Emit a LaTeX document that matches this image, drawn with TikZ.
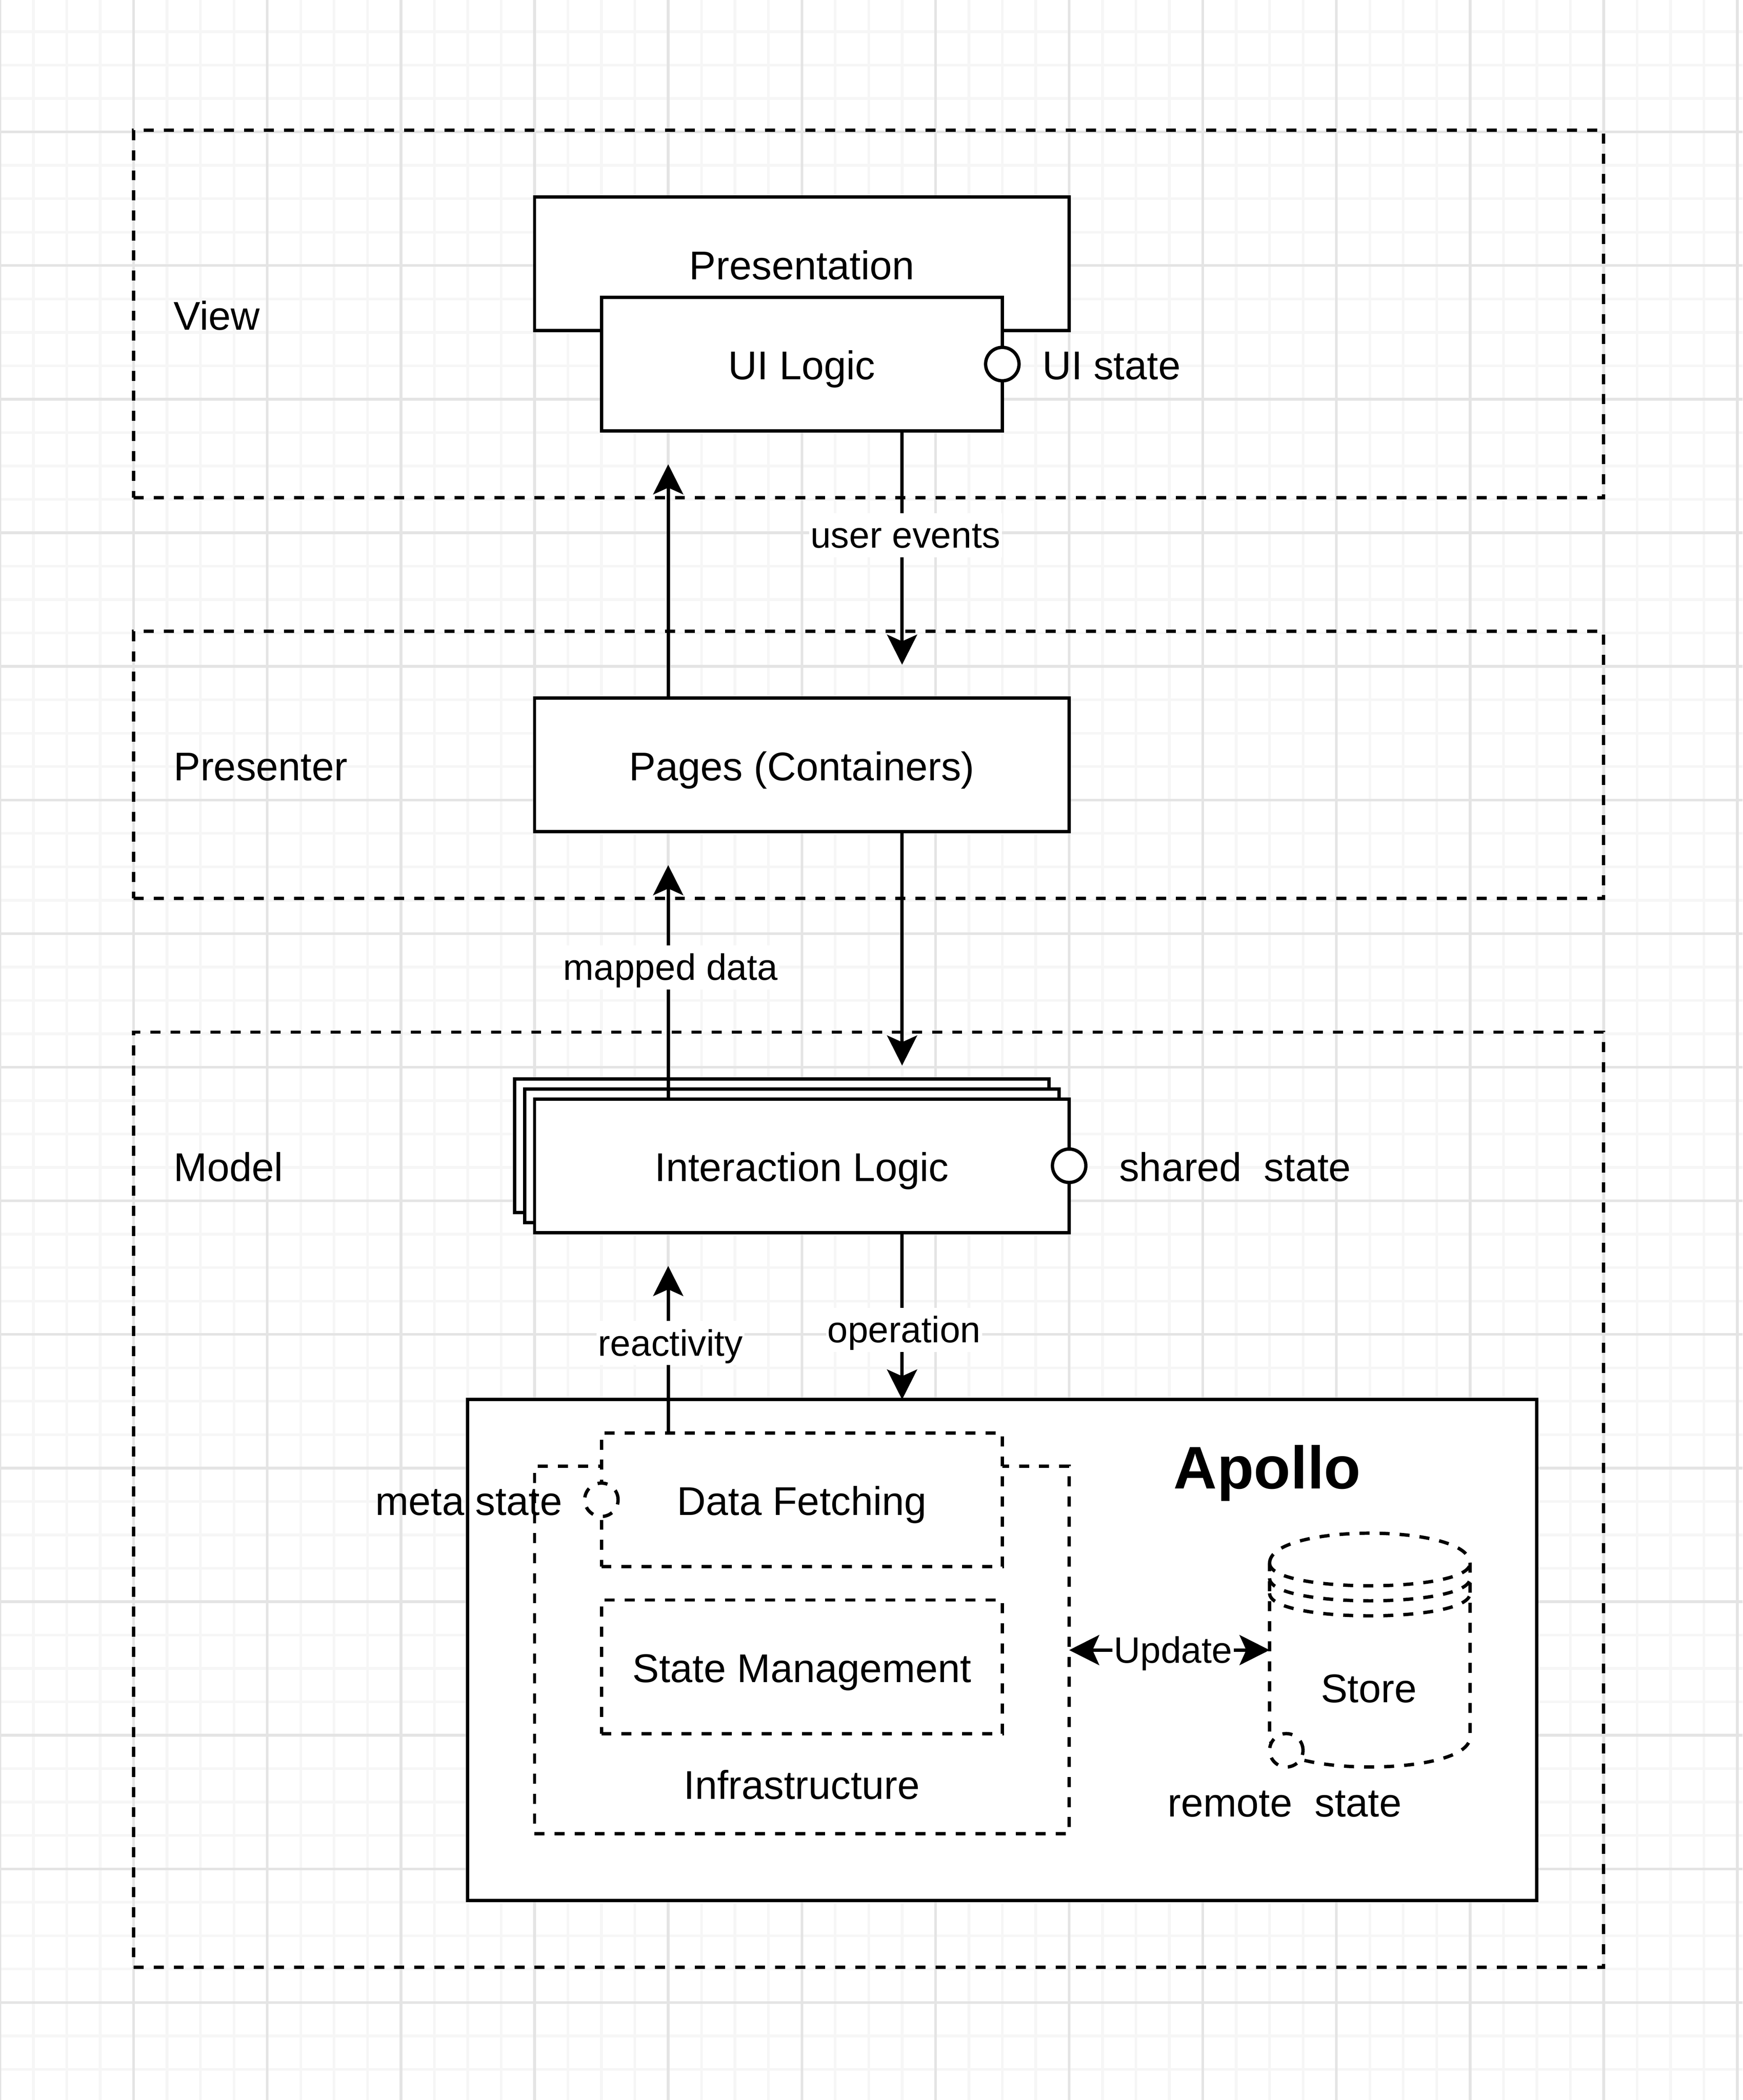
\documentclass[tikz,border=0pt]{standalone}
\usepackage{fontspec}
\setmainfont{Liberation Sans}
\usetikzlibrary{arrows.meta}
\definecolor{gmaj}{RGB}{228,228,228}
\definecolor{gmin}{RGB}{246,246,246}
\begin{document}
\begin{tikzpicture}[x=1pt,y=-1pt,
  every node/.style={inner sep=0pt, outer sep=0pt},
  f12/.style={font=\fontsize{12pt}{14.4pt}\selectfont, text height=12.3pt, text depth=3.04pt},
  f11/.style={font=\fontsize{11pt}{13.2pt}\selectfont, text height=10.41pt, text depth=2.79pt},
  dashline/.style={dash pattern=on 3pt off 3pt},
  box/.style={draw, line width=1pt, fill=white, f12},
  dbox/.style={box, dashline},
  group/.style={draw, line width=1pt, dashline},
  txt/.style={f12},
  elabel/.style={f11, fill=white, inner xsep=0.4pt},
  conn/.style={line width=1pt, -{Stealth[length=9pt, width=9pt, inset=2pt]}},
  biconn/.style={line width=1pt, {Stealth[length=9pt, width=9pt, inset=2pt]}-{Stealth[length=9pt, width=9pt, inset=2pt]}},
  port/.style={circle, draw, line width=1pt, fill=white, minimum size=10pt}
]
\useasboundingbox (0,0) rectangle (521.6,628.7);
% background and grid
\begin{scope}
\clip (0,0) rectangle (521.6,628.7);
\fill[white] (0,0) rectangle (521.6,628.7);
\foreach \k in {0,...,52} \draw[gmin, line width=0.8pt] (\k*10,0) -- (\k*10,628.7);
\foreach \k in {0,...,63} \draw[gmin, line width=0.8pt] (0,\k*10-0.5) -- (521.6,\k*10-0.5);
\foreach \k in {0,...,13} \draw[gmaj, line width=0.8pt] (\k*40,0) -- (\k*40,628.7);
\foreach \k in {0,...,16} \draw[gmaj, line width=0.8pt] (0,\k*40-0.5) -- (521.6,\k*40-0.5);
\end{scope}

% layer groups
\node[group, minimum width=440pt, minimum height=110pt] (view) at (260,94) {};
\node[group, minimum width=440pt, minimum height=80pt] (presenter) at (260,229) {};
\node[group, minimum width=440pt, minimum height=280pt] (model) at (260,449) {};
\node[txt, anchor=west] (viewl) at (52,94.1) {View};
\node[txt, anchor=west] (presl) at (52,229) {Presenter};
\node[txt, anchor=west] (modell) at (52,349) {Model};

% view
\node[box, minimum width=160pt, minimum height=40pt] (pres) at (240,79) {Presentation};
\node[box, minimum width=120pt, minimum height=40pt] (ui) at (240,109) {UI Logic};
\node[port] (uis) at (ui.east) {};
\node[txt, anchor=west] (uisl) at (312,109) {UI state};

% presenter
\node[box, minimum width=160pt, minimum height=40pt] (pages) at (240,229) {Pages (Containers)};

% model
\node[box, minimum width=160pt, minimum height=40pt] (il3) at (234,343) {};
\node[box, minimum width=160pt, minimum height=40pt] (il2) at (237,346) {};
\node[box, minimum width=160pt, minimum height=40pt] (il) at (240,349) {Interaction Logic};
\node[port] (shs) at (il.east) {};
\node[txt, anchor=west] (shsl) at (335,349) {shared\ \ state};

% apollo
\node[box, minimum width=320pt, minimum height=150pt] (apollo) at (300,494) {};
\node[font=\fontsize{18pt}{21.6pt}\selectfont\bfseries, text height=17.04pt, text depth=4.56pt] (apl) at (379.3,439.4) {Apollo};
\node[dbox, minimum width=160pt, minimum height=110pt] (infra) at (240,494) {};
\node[txt] (infl) at (240,534) {Infrastructure};
\node[dbox, minimum width=120pt, minimum height=40pt] (df) at (240,449) {Data Fetching};
\node[dbox, minimum width=120pt, minimum height=40pt] (sm) at (240,499) {State Management};
\node[port, dashline] (mp) at (df.west) {};
\node[txt] (mpl) at (140.3,449) {meta state};

% store (datastore cylinder)
\node[minimum width=60pt, minimum height=70pt] (store) at (410,494) {};
\begin{scope}[shift={(store.north west)}]
\draw[line width=1pt, dashline, fill=white]
  (0,9) .. controls (0,-3) and (60,-3) .. (60,9) -- (60,61)
  .. controls (60,73) and (0,73) .. (0,61) -- cycle;
\draw[line width=1pt, dashline] (0,9) .. controls (0,18) and (60,18) .. (60,9);
\draw[line width=1pt, dashline] (0,13.5) .. controls (0,22.5) and (60,22.5) .. (60,13.5);
\draw[line width=1pt, dashline] (0,18) .. controls (0,27) and (60,27) .. (60,18);
\end{scope}
\node[txt] (storel) at (409.7,505) {Store};
\node[port, dashline] (rp) at (385,524) {};
\node[txt] (rpl) at (384.5,539.2) {remote\ \ state};

% connectors
\coordinate (xL) at (200,0);
\coordinate (xR) at (270,0);
\coordinate (t1) at (200,139);
\coordinate (t2) at (270,199);
\coordinate (t3) at (270,319);
\coordinate (t4) at (200,259);
\coordinate (t6) at (200,379);
\draw[conn] (pages.north -| xL) -- (t1);
\draw[conn] (ui.south -| xR) -- (t2);
\draw[conn] (pages.south -| xR) -- (t3);
\draw[conn] (il.north -| xL) -- (t4);
\draw[conn] (il.south -| xR) -- (apollo.north -| xR);
\draw[conn] (df.north -| xL) -- (t6);
\draw[biconn] (infra.east) -- (store.west);

% edge labels
\node[elabel] (lue) at (271,160.2) {user events};
\node[elabel] (lmd) at (200.7,289.6) {mapped data};
\node[elabel] (lop) at (270.6,398.1) {operation};
\node[elabel] (lre) at (200.7,402.1) {reactivity};
\node[elabel] (lup) at (351.1,494) {Update};
\end{tikzpicture}
\end{document}
